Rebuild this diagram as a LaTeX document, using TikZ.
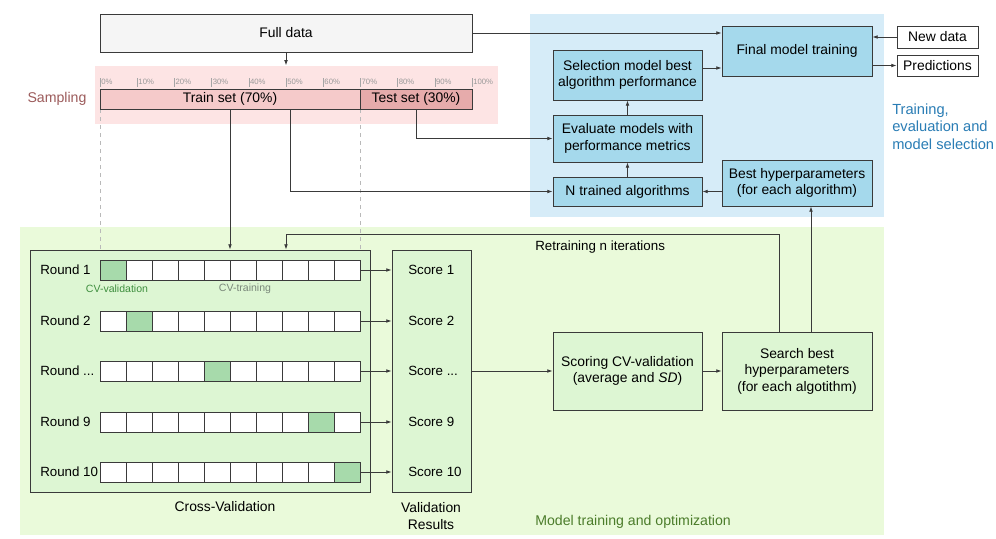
\documentclass[tikz,border=0pt]{standalone}
\usepackage{fontspec}
\setmainfont{Liberation Sans}
\usetikzlibrary{arrows.meta}
\definecolor{linecol}{HTML}{3A3A3A}
\definecolor{fullfill}{HTML}{F5F5F5}
\definecolor{pinkband}{HTML}{FDE4E4}
\definecolor{trainfill}{HTML}{F5CACA}
\definecolor{testfill}{HTML}{E6ABAB}
\definecolor{blueband}{HTML}{D6ECF8}
\definecolor{bluebox}{HTML}{A5D9EC}
\definecolor{greenband}{HTML}{EAFADA}
\definecolor{greenbox}{HTML}{DDF6D3}
\definecolor{cellgreen}{HTML}{A7DAAB}
\definecolor{samplingcol}{HTML}{9C5B5B}
\definecolor{bluelabel}{HTML}{2A7DB5}
\definecolor{greenlabel}{HTML}{4B7C2A}
\definecolor{cvgreen}{HTML}{3F8F3F}
\definecolor{cvgray}{HTML}{7A887A}
\begin{document}
\begin{tikzpicture}[x=0.75pt,y=-0.75pt,
  box/.style={draw=linecol, line width=0.6pt, inner sep=0pt, align=center, font=\fontsize{10.4}{12.4}\selectfont},
  pbox/.style n args={4}{at={({(#1+#3)/2},{(#2+#4)/2})}, minimum width={(#3-#1)*0.75pt}, minimum height={(#4-#2)*0.75pt}},
  arr/.style={-{Latex[length=4pt,width=2.8pt]}, draw=linecol, line width=0.6pt},
  txt/.style={inner sep=0pt, font=\fontsize{10.4}{12.4}\selectfont},
  rowtxt/.style={inner sep=0pt, anchor=west, font=\fontsize{10}{12}\selectfont},
  tick/.style={draw=gray!70, line width=0.3pt},
  ticklbl/.style={inner sep=0pt, anchor=west, text=gray!80, font=\fontsize{5.8}{6}\selectfont},
  cell/.style={draw=linecol, line width=0.6pt}]
% canvas
\fill[white] (0,0) rectangle (996,539);
\useasboundingbox (0,0) rectangle (996,539);
% bands
\fill[pinkband] (95,66) rectangle (498,124);
\fill[blueband] (530,14) rectangle (884,217);
\fill[greenband] (20,227) rectangle (884,535);
% dashed guides
\draw[gray!55, dashed, line width=0.4pt] (100,109) -- (100,250);
\draw[gray!55, dashed, line width=0.4pt] (360,109) -- (360,250);
% top
\node[box, fill=fullfill, pbox={100}{14}{472}{52}] (full) {Full data};
\node[box, fill=trainfill, pbox={100}{89}{360}{109}] (train) {Train set (70\%)};
\node[box, fill=testfill, pbox={360}{89}{472}{109}] (test) {Test set (30\%)};
\node[inner sep=0pt, text=samplingcol, font=\fontsize{10.6}{12}\selectfont] (sampling) at (57,99) {Sampling};
\foreach \i in {0,...,10} {
  \pgfmathsetmacro\xx{100+37.2*\i}
  \draw[tick] (\xx,78) -- (\xx,87);
  \pgfmathtruncatemacro\pp{10*\i}
  \node[ticklbl] at (\xx+1,82) {\pp\%};
}
% blue region
\node[box, fill=bluebox, pbox={722}{26}{872}{76}] (final) {Final model training};
\node[box, fill=bluebox, pbox={553}{50}{702}{100}] (sel) {Selection model best\\algorithm performance};
\node[box, fill=bluebox, pbox={553}{115}{702}{162}] (eval) {Evaluate models with\\performance metrics};
\node[box, fill=bluebox, pbox={553}{177}{702}{206}] (ntrain) {N trained algorithms};
\node[box, fill=bluebox, pbox={722}{160}{872}{206}] (best) {Best hyperparameters\\(for each algorithm)};
\node[box, fill=white, pbox={897}{26}{978}{48}] (new) {New data};
\node[box, fill=white, pbox={897}{55}{978}{76}] (pred) {Predictions};
\node[inner sep=0pt, anchor=north west, align=left, text=bluelabel, font=\fontsize{11}{12.8}\selectfont] (tlabel) at (892,104) {Training,\\evaluation and\\model selection};
% green region
\node[box, fill=greenbox, pbox={30}{250}{370}{492}] (cv) {};
\node[box, fill=greenbox, pbox={392}{250}{471}{492}] (val) {};
\node[box, fill=greenbox, pbox={553}{332}{702}{410}] (scoring) {Scoring CV-validation\\(average and \textit{SD})};
\node[box, fill=greenbox, pbox={722}{332}{872}{410}] (search) {Search best\\hyperparameters\\(for each algotithm)};
\node[txt] (cvlbl) at (225,507) {Cross-Validation};
\node[txt, align=center] (vallbl) at (431,516) {Validation\\Results};
\node[rowtxt] (retr) at (535,247) {Retraining n iterations};
\node[inner sep=0pt, anchor=west, text=greenlabel, font=\fontsize{10.6}{12}\selectfont] (mto) at (535,522) {Model training and optimization};
\node[inner sep=0pt, text=cvgreen, font=\fontsize{7.9}{9}\selectfont] (cvv) at (117,289) {CV-validation};
\node[inner sep=0pt, text=cvgray, font=\fontsize{7.9}{9}\selectfont] (cvt) at (245,289) {CV-training};
% rows
\foreach \yc/\g/\rl/\sl [count=\k] in {270/0/1/1, 321/1/2/2, 371/4/{...}/{...}, 422/8/9/9, 472/9/10/10} {
  \node[inner sep=0pt, pbox={100}{\yc-10}{360}{\yc+10}] (bar\k) {};
  \foreach \i in {0,...,9} {
    \pgfmathsetmacro\xa{100+26*\i}
    \ifnum\i=\g
      \draw[cell, fill=cellgreen] (\xa,\yc-10) rectangle (\xa+26,\yc+10);
    \else
      \draw[cell, fill=white] (\xa,\yc-10) rectangle (\xa+26,\yc+10);
    \fi
  }
  \node[rowtxt] (round\k) at (40,\yc) {Round \rl};
  \node[rowtxt] (score\k) at (408,\yc) {Score \sl};
  \draw[arr] (bar\k.east) -- (bar\k.east -| val.west);
}
% connectors
\draw[arr] (full.south) -- ++(0,13);
\draw[arr] (full.east) -- (full.east -| final.west);
\draw[arr] (new.west) -- (new.west -| final.east);
\draw[arr] (pred.west -| final.east) -- (pred.west);
\draw[arr] ([yshift=5.25pt]sel.east) -- ([yshift=5.25pt]sel.east -| final.west);
\draw[arr] (eval.north) -- (sel.south);
\draw[arr] (ntrain.north) -- (eval.south);
\draw[arr] (best.west |- ntrain.east) -- (ntrain.east);
\draw[arr] (train.south) -- (train.south |- cv.north);
\draw[arr] ([xshift=45pt]train.south) |- (ntrain.west);
\draw[arr] (test.south) |- (eval.west);
\draw[arr] (val.east) -- (scoring.west);
\draw[arr] (scoring.east) -- (search.west);
\draw[arr] ([xshift=10.5pt]search.north) -- ([xshift=10.5pt]search.north |- best.south);
\coordinate (rt) at (286,234);
\draw[arr] ([xshift=-13.5pt]search.north) |- (rt) -- (rt |- cv.north);
\end{tikzpicture}
\end{document}
